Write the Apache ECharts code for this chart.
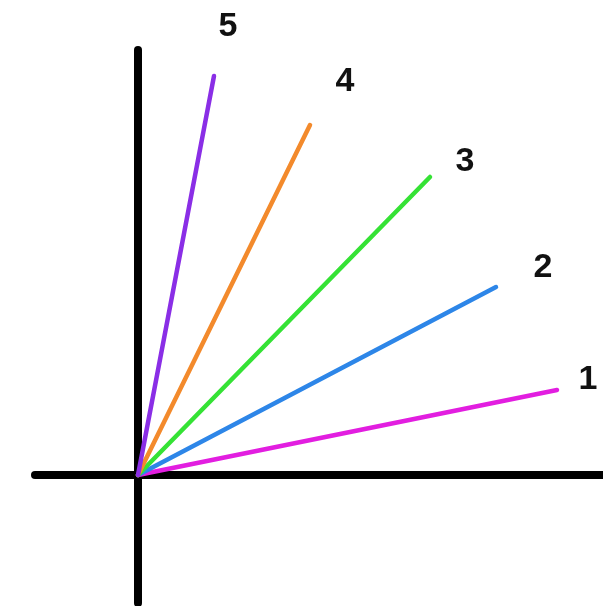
<!DOCTYPE html>
<html>
<head>
<meta charset="utf-8">
<script src="https://cdn.jsdelivr.net/npm/echarts@6/dist/echarts.min.js"></script>
<style>
  html, body { margin: 0; padding: 0; background: #fff; }
  #chart { width: 603px; height: 606px; }
</style>
</head>
<body>
<div id="chart"></div>
<script>
// Five rays fanning out from the origin, numbered 1 to 5
const rayNames = ['1', '2', '3', '4', '5'];
const rayEndX = [41.9, 35.8, 29.2, 17.2, 7.6];
const rayEndY = [8.5, 18.8, 29.8, 35.0, 39.9];
const rayColors = ['#e21ee0', '#2d86e8', '#35e235', '#f38a2c', '#8a2ee6'];
// Where each number sits relative to the end of its ray (px)
const labelOffsets = [[31, -10], [47, -19], [35, -15], [35, -43], [14, -49]];

const series = rayNames.map((name, i) => ({
  type: 'line',
  name: name,
  data: [
    [0, 0],
    {
      value: [rayEndX[i], rayEndY[i]],
      label: {
        show: true,
        position: 'inside',
        offset: labelOffsets[i],
        formatter: name,
        color: '#111',
        fontSize: 34,
        fontWeight: 'bold',
        fontFamily: 'Liberation Sans, Arial, sans-serif'
      }
    }
  ],
  symbol: 'circle',
  symbolSize: 0.01,
  showSymbol: true,
  lineStyle: { color: rayColors[i], width: 4.5, cap: 'round' },
  itemStyle: { color: rayColors[i] },
  z: 3
}));

const chart = echarts.init(document.getElementById('chart'));
chart.setOption({
  animation: false,
  backgroundColor: '#fff',
  grid: { left: 35, right: 0, top: 50, bottom: 3 },
  xAxis: {
    type: 'value', min: -10.3, max: 46.5,
    axisLine: { onZero: true, lineStyle: { color: '#000', width: 8 } },
    axisTick: { show: false }, axisLabel: { show: false }, splitLine: { show: false }
  },
  yAxis: {
    type: 'value', min: -12.8, max: 42.5,
    axisLine: { onZero: true, lineStyle: { color: '#000', width: 8 } },
    axisTick: { show: false }, axisLabel: { show: false }, splitLine: { show: false }
  },
  series: series
});
</script>
</body>
</html>
